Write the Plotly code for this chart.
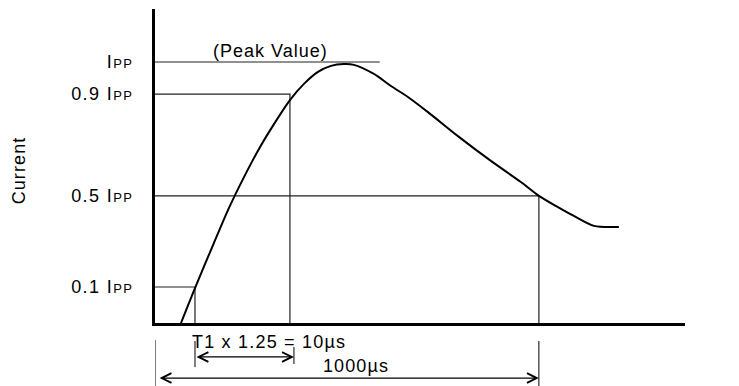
import plotly.graph_objects as go

# surge current waveform, schematic (time in us-like units, current as fraction of Ipp)
curve_t = [67.5, 103.9, 153.2, 192.2, 231.2, 270.1, 309.1, 350.6, 387.0, 423.4,
           457.1, 490.9, 516.9, 568.8, 613.0, 657.1, 709.1, 787.0, 872.7, 950.6,
           997.4, 1046.8, 1088.3, 1140.3, 1205.2]
curve_i = [0.0, 0.134, 0.307, 0.441, 0.559, 0.667, 0.762, 0.854, 0.916, 0.962,
           0.985, 0.992, 0.989, 0.954, 0.908, 0.866, 0.808, 0.716, 0.621, 0.540,
           0.487, 0.444, 0.410, 0.372, 0.368]

# reference levels as drawn, and where each guide line stops on the time axis
level_vals = [1.0, 0.877, 0.487, 0.138]
level_names = ["", "0.9 ", "0.5 ", "0.1 "]
level_ends = [584, 350.6, 997.4, 103.9]
level_drops = [False, True, True, True]

# dimension arrows below the time axis
t_rise = [103.9, 361]        # T1 x 1.25 = 10us
t_total = [0, 997.4]         # 1000us

FONT = "Liberation Sans, Arial, sans-serif"
BLACK = "#000"
GUIDE = "#222"


def wide(s, ls=1.2):
    # the original lettering is a bit wider than Arial
    return f"<span style='letter-spacing:{ls}px'>{s}</span>"


level_labels = [wide(n + "I<span style='font-size:13px'>PP</span>", 1.4) for n in level_names]

fig = go.Figure()

for v, end, drop in zip(level_vals, level_ends, level_drops):
    xs = [0, end] + ([end] if drop else [])
    ys = [v, v] + ([0] if drop else [])
    fig.add_trace(go.Scatter(x=xs, y=ys, mode="lines",
                             line=dict(color=GUIDE, width=1.2),
                             hoverinfo="skip", showlegend=False))

fig.add_trace(go.Scatter(x=curve_t, y=curve_i, mode="lines",
                         line=dict(color=BLACK, width=2, shape="spline", smoothing=0.8),
                         showlegend=False))

# extension lines in the dimension strip (y2)
ext = [
    (t_total[0], -0.065, -0.245),
    (t_total[1], -0.069, -0.245),
    (t_rise[0], -0.069, -0.169),
    (t_rise[1], -0.092, -0.157),
]
for t, y0, y1 in ext:
    fig.add_trace(go.Scatter(x=[t, t], y=[y0, y1], mode="lines", yaxis="y2",
                             line=dict(color=BLACK, width=1),
                             hoverinfo="skip", showlegend=False))

arrow_style = dict(showarrow=True, text="", xref="x", yref="y2", axref="x", ayref="y2",
                   arrowhead=5, startarrowhead=5, arrowsize=1.6, startarrowsize=1.6,
                   arrowwidth=1.2, arrowcolor=BLACK, arrowside="end+start",
                   standoff=0, startstandoff=0)
fig.add_annotation(x=t_rise[1], y=-0.130, ax=t_rise[0], ay=-0.130, **arrow_style)
fig.add_annotation(x=t_total[1], y=-0.211, ax=t_total[0] + 8, ay=-0.211, **arrow_style)

txt = dict(showarrow=False, font=dict(family=FONT, size=18, color=BLACK))
fig.add_annotation(x=92, y=-0.072, xref="x", yref="y2", text=wide("T1 x 1.25 = 10µs", 1.2),
                   xanchor="left", yanchor="middle", **txt)
fig.add_annotation(x=522, y=-0.165, xref="x", yref="y2", text=wide("1000µs", 1.1),
                   xanchor="center", yanchor="middle", **txt)
fig.add_annotation(x=301, y=1.042, xref="x", yref="y", text=wide("(Peak Value)", 1.0),
                   xanchor="center", yanchor="middle", **txt)
fig.add_annotation(x=1398, y=0.022, xref="x", yref="y", text="Time",
                   xanchor="left", yanchor="middle", **txt)
fig.add_annotation(x=-0.256, y=0.586, xref="paper", yref="y", text=wide("Current", 1.1),
                   textangle=-90, xanchor="center", yanchor="middle", **txt)

# page body has an 8px margin, so the figure is a bit smaller than the window
fig.update_layout(
    width=731, height=378,
    margin=dict(l=147, r=54, t=1, b=0),
    paper_bgcolor="white", plot_bgcolor="white",
    font=dict(family=FONT, size=18, color=BLACK),
    xaxis=dict(range=[0, 1377], showline=True, linewidth=3, linecolor=BLACK,
               showgrid=False, zeroline=False, showticklabels=False, ticks="",
               anchor="y", automargin=False),
    yaxis=dict(domain=[63 / 377, 1], range=[0, 1.203], showline=True, linewidth=3,
               linecolor=BLACK, showgrid=False, zeroline=False, ticks="",
               tickvals=level_vals, ticktext=level_labels, ticklabelstandoff=15,
               tickfont=dict(family=FONT, size=18, color=BLACK), automargin=False),
    yaxis2=dict(domain=[0, 63 / 377], range=[-0.2414, 0], visible=False,
                anchor="x", showgrid=False, zeroline=False),
)

fig.write_html("out.html")
